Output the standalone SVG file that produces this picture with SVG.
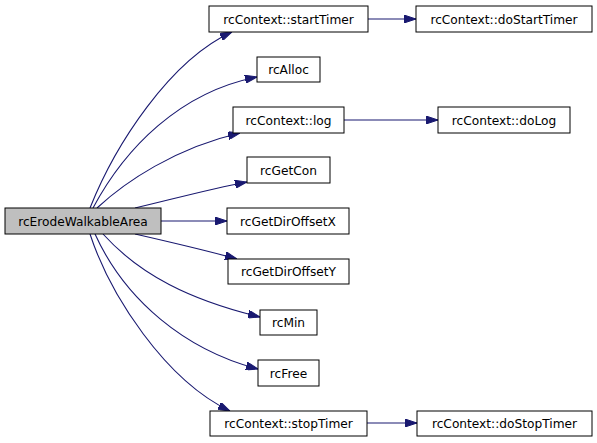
<svg xmlns="http://www.w3.org/2000/svg" width="597" height="443" viewBox="0 0 597 443">
<style>
.n rect{fill:#fff;stroke:#000;stroke-width:1}
.m rect{fill:#bfbfbf}
text{font-family:"DejaVu Sans",sans-serif;font-size:12.2px;text-anchor:middle;fill:#000}
.e path{fill:none;stroke:#191970;stroke-width:1.1}
</style>
<defs>
<marker id="a" markerUnits="userSpaceOnUse" markerWidth="12" markerHeight="8" refX="12" refY="4" orient="auto">
<path d="M0,0 L12,4 L0,8 z" fill="#191970" stroke="#191970" stroke-width="1"/>
</marker>
</defs>
<g class="e" id="edges">
<path marker-end="url(#a)" d="M90,208 C115,145 170,60 232,32"/>
<path marker-end="url(#a)" d="M93,208 C125,148 180,92 257,77"/>
<path marker-end="url(#a)" d="M97,208 C125,182 175,148 240,133"/>
<path marker-end="url(#a)" d="M135,208 C170,200 205,190 247,182"/>
<path marker-end="url(#a)" d="M161,221 L227,221"/>
<path marker-end="url(#a)" d="M135,234 C170,242 205,250 237,259"/>
<path marker-end="url(#a)" d="M103,234 C140,275 190,300 260,317"/>
<path marker-end="url(#a)" d="M95,234 C125,300 185,350 258,369"/>
<path marker-end="url(#a)" d="M90,234 C110,295 165,380 230,411"/>
<path marker-end="url(#a)" d="M368,19 L416,19"/>
<path marker-end="url(#a)" d="M344,120 L438,120"/>
<path marker-end="url(#a)" d="M367,423 L417,423"/>
</g>
<g class="n m" id="rcErodeWalkableArea"><rect x="5" y="208" width="156" height="26"/><text x="83" y="225.5">rcErodeWalkableArea</text></g>
<g class="n" id="startTimer"><rect x="209" y="6" width="159" height="26"/><text x="288.5" y="23.5">rcContext::startTimer</text></g>
<g class="n" id="doStartTimer"><rect x="416" y="6" width="176" height="26"/><text x="504" y="23.5">rcContext::doStartTimer</text></g>
<g class="n" id="rcAlloc"><rect x="257" y="57" width="63" height="25"/><text x="288.5" y="74">rcAlloc</text></g>
<g class="n" id="log"><rect x="233" y="107" width="111" height="26"/><text x="288.5" y="124.5">rcContext::log</text></g>
<g class="n" id="doLog"><rect x="438" y="107" width="132" height="26"/><text x="504" y="124.5">rcContext::doLog</text></g>
<g class="n" id="rcGetCon"><rect x="247" y="157" width="83" height="26"/><text x="288.5" y="174.5">rcGetCon</text></g>
<g class="n" id="rcGetDirOffsetX"><rect x="227" y="208" width="122" height="26"/><text x="288" y="225.5">rcGetDirOffsetX</text></g>
<g class="n" id="rcGetDirOffsetY"><rect x="228" y="259" width="121" height="25"/><text x="288.5" y="276">rcGetDirOffsetY</text></g>
<g class="n" id="rcMin"><rect x="260" y="310" width="57" height="25"/><text x="288.5" y="327">rcMin</text></g>
<g class="n" id="rcFree"><rect x="258" y="360" width="61" height="26"/><text x="288.5" y="377.5">rcFree</text></g>
<g class="n" id="stopTimer"><rect x="210" y="411" width="157" height="25"/><text x="288.5" y="428">rcContext::stopTimer</text></g>
<g class="n" id="doStopTimer"><rect x="417" y="411" width="175" height="25"/><text x="504.5" y="428">rcContext::doStopTimer</text></g>
</svg>
